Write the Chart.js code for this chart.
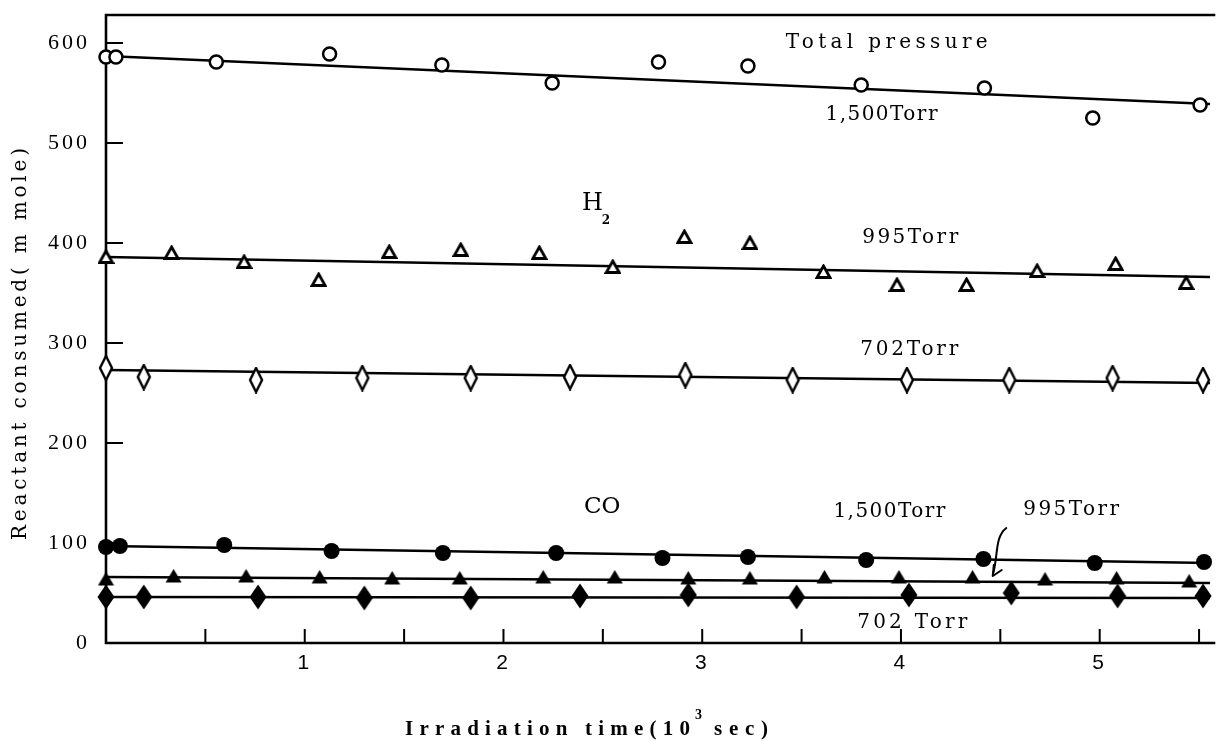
<!DOCTYPE html>
<html>
<head>
<meta charset="utf-8">
<script src="https://cdn.jsdelivr.net/npm/chart.js@4.4.1/dist/chart.umd.min.js"></script>
<style>
  html, body { margin: 0; padding: 0; background: #fff; }
  #chart { display: block; }
</style>
</head>
<body>
<canvas id="chart" width="1219" height="741"></canvas>
<script>
// irradiation time, 10^3 sec / reactant consumed, m mole

// total pressure, 1,500 Torr (open circles)
const totalX = [0, 0.05, 0.555, 1.125, 1.69, 2.245, 2.78, 3.23, 3.8, 4.42, 4.965, 5.505];
const totalY = [586, 586, 581, 589, 578, 560, 581, 577, 558, 555, 525, 538];

// H2, 995 Torr (open triangles)
const h2At995X = [0, 0.33, 0.695, 1.07, 1.425, 1.785, 2.18, 2.55, 2.91, 3.24, 3.61, 3.98, 4.33, 4.685, 5.08, 5.435];
const h2At995Y = [386, 390, 381, 363, 391, 393, 390, 376, 406, 400, 371, 358, 358, 372, 379, 360];

// H2, 702 Torr (open diamonds)
const h2At702X = [0, 0.19, 0.755, 1.29, 1.835, 2.335, 2.915, 3.455, 4.03, 4.545, 5.065, 5.52];
const h2At702Y = [275, 266, 263, 265, 265, 266, 268, 263, 263, 263, 265, 263];

// CO, 1,500 Torr (filled circles)
const coAt1500X = [0, 0.07, 0.595, 1.135, 1.695, 2.265, 2.8, 3.23, 3.825, 4.415, 4.975, 5.525];
const coAt1500Y = [96, 97, 98, 92, 90, 90, 85, 86, 83, 84, 80, 81];

// CO, 995 Torr (filled triangles)
const coAt995X = [0, 0.34, 0.705, 1.075, 1.44, 1.78, 2.2, 2.56, 2.93, 3.24, 3.615, 3.99, 4.36, 4.725, 5.085, 5.45];
const coAt995Y = [64, 67, 67, 66, 65, 65, 66, 66, 65, 65, 66, 66, 66, 64, 65, 62];

// CO, 702 Torr (filled diamonds)
const coAt702X = [0, 0.19, 0.765, 1.3, 1.835, 2.385, 2.93, 3.475, 4.04, 4.555, 5.09, 5.52];
const coAt702Y = [46, 46, 46, 45, 45, 47, 48, 46, 48, 50, 47, 47];

// straight fitted lines, ends at x = 0 and x = xMax
const xMax = 5.555;
const fitX = [0, xMax];
const totalFitY = [587, 539];
const h2At995FitY = [386, 366];
const h2At702FitY = [273, 260];
const coAt1500FitY = [97, 80];
const coAt995FitY = [66, 60];
const coAt702FitY = [46, 45];

// axes
const yMax = 628;
const yTickValues = [0, 100, 200, 300, 400, 500, 600];
const xTickValues = [1, 2, 3, 4, 5];
const xTickMarks = [0.5, 1, 1.5, 2, 2.5, 3, 3.5, 4, 4.5, 5, 5.5];

const SERIF = "'DejaVu Serif', 'Liberation Serif', serif";
const TIMES = "'Liberation Serif', 'DejaVu Serif', serif";
const SANS = "'Liberation Sans', Arial, sans-serif";

// labels placed in data units (left edge, middle), w = spread width in px
const notes = [
  { text: 'Total pressure', x: 3.42, y: 600, w: 202 },
  { text: '1,500Torr', x: 3.62, y: 528, w: 112 },
  { text: '995Torr', x: 3.805, y: 405, w: 96 },
  { text: '702Torr', x: 3.795, y: 293, w: 98 },
  { text: '1,500Torr', x: 3.66, y: 131, w: 112 },
  { text: '995Torr', x: 4.615, y: 133, w: 96 },
  { text: '702 Torr', x: 3.78, y: 20, w: 110 },
];

function pts(xs, ys) {
  return xs.map((x, i) => ({ x, y: ys[i] }));
}

function marker(w, h, draw) {
  const c = document.createElement('canvas');
  c.width = w;
  c.height = h;
  const g = c.getContext('2d');
  g.strokeStyle = '#000';
  g.fillStyle = '#000';
  draw(g);
  return c;
}

function poly(g, p) {
  g.beginPath();
  g.moveTo(p[0][0], p[0][1]);
  for (let i = 1; i < p.length; i++) g.lineTo(p[i][0], p[i][1]);
  g.closePath();
}

const openTriangle = marker(17, 16, (g) => {
  poly(g, [[8.5, 2], [15, 13.5], [2, 13.5]]);
  g.fillStyle = '#fff';
  g.fill();
  g.lineWidth = 2.8;
  g.lineJoin = 'miter';
  g.stroke();
});

const filledTriangle = marker(17, 15, (g) => {
  poly(g, [[8.5, 0.5], [16.5, 14], [0.5, 14]]);
  g.fill();
});

const openDiamond = marker(16, 27, (g) => {
  poly(g, [[8, 1.5], [14, 13.5], [8, 25.5], [2, 13.5]]);
  g.fillStyle = '#fff';
  g.fill();
  g.lineWidth = 2.4;
  g.stroke();
});

const filledDiamond = marker(18, 26, (g) => {
  poly(g, [[9, 0.5], [17.5, 13], [9, 25.5], [0.5, 13]]);
  g.fill();
});

function markerSet(data, style, extra) {
  return Object.assign({
    data,
    showLine: false,
    pointStyle: style,
    pointBorderColor: '#000',
    pointBackgroundColor: '#000',
    pointBorderWidth: 0,
    pointRadius: 8,
    pointHoverRadius: 8,
    clip: false,
    order: 1,
  }, extra || {});
}

function fitLine(ys) {
  return {
    data: pts(fitX, ys),
    showLine: true,
    borderColor: '#000',
    borderWidth: 2.3,
    pointRadius: 0,
    pointHoverRadius: 0,
    clip: false,
    order: 2,
  };
}

function spaced(ctx, text, x, y, width) {
  ctx.letterSpacing = '0px';
  const w = ctx.measureText(text).width;
  const gap = text.length > 1 ? (width - w) / (text.length - 1) : 0;
  ctx.letterSpacing = gap + 'px';
  ctx.fillText(text, x, y);
  ctx.letterSpacing = '0px';
}

// keep the chart area exactly where the frame sits
function noEdgePadding(scale) {
  scale.paddingTop = 0;
  scale.paddingBottom = 0;
  scale.paddingLeft = 0;
  scale.paddingRight = 0;
}

const paper = {
  id: 'paper',
  beforeDraw(chart) {
    const ctx = chart.ctx;
    ctx.save();
    ctx.fillStyle = '#fff';
    ctx.fillRect(0, 0, chart.width, chart.height);
    ctx.restore();
    // spaced-out typewriter digits on the tick labels
    ctx.letterSpacing = '3px';
  },
  beforeDatasetsDraw(chart) {
    const ctx = chart.ctx;
    const { left, right, top, bottom } = chart.chartArea;
    const xs = chart.scales.x;
    const ys = chart.scales.y;
    ctx.save();
    ctx.strokeStyle = '#000';
    ctx.lineWidth = 2.6;
    ctx.lineCap = 'square';
    ctx.beginPath();
    ctx.moveTo(right + 4, top);
    ctx.lineTo(left, top);
    ctx.lineTo(left, bottom);
    ctx.lineTo(right + 4, bottom);
    ctx.stroke();

    // tick marks point inward
    ctx.lineWidth = 2;
    ctx.lineCap = 'butt';
    ctx.beginPath();
    yTickValues.filter((v) => v > 0).forEach((v) => {
      const py = ys.getPixelForValue(v);
      ctx.moveTo(left, py);
      ctx.lineTo(left + 17, py);
    });
    xTickMarks.forEach((v) => {
      const px = xs.getPixelForValue(v);
      ctx.moveTo(px, bottom);
      ctx.lineTo(px, bottom - 14);
    });
    ctx.stroke();
    ctx.restore();
  },
  afterDraw(chart) {
    const ctx = chart.ctx;
    const xs = chart.scales.x;
    const ys = chart.scales.y;
    const px = (v) => xs.getPixelForValue(v);
    const py = (v) => ys.getPixelForValue(v);

    ctx.save();
    ctx.fillStyle = '#000';
    ctx.textAlign = 'left';
    ctx.textBaseline = 'middle';

    ctx.font = '20px ' + SERIF;
    notes.forEach((n) => spaced(ctx, n.text, px(n.x), py(n.y), n.w));

    // H2
    ctx.font = '24px ' + SERIF;
    ctx.fillText('H', px(2.395), py(439));
    ctx.font = 'bold 12px ' + SERIF;
    ctx.fillText('2', px(2.495), py(422));

    // CO
    ctx.font = '23px ' + SERIF;
    ctx.fillText('CO', px(2.405), py(136));

    // curved pointer to the CO 995 Torr line
    ctx.strokeStyle = '#000';
    ctx.lineWidth = 2;
    ctx.lineCap = 'round';
    ctx.beginPath();
    ctx.moveTo(px(4.53), py(115));
    ctx.bezierCurveTo(px(4.47), py(106), px(4.49), py(86), px(4.462), py(68));
    ctx.stroke();
    const tipX = px(4.462);
    const tipY = py(67);
    ctx.beginPath();
    ctx.moveTo(tipX, tipY);
    ctx.lineTo(tipX + 1, tipY - 11);
    ctx.moveTo(tipX, tipY);
    ctx.lineTo(tipX + 9, tipY - 6);
    ctx.stroke();

    // axis titles
    ctx.font = 'bold 21px ' + TIMES;
    const titleY = 730;
    spaced(ctx, 'Irradiation time(10', 405, titleY, 285);
    ctx.font = 'bold 14px ' + TIMES;
    ctx.fillText('3', 695, titleY - 15);
    ctx.font = 'bold 21px ' + TIMES;
    spaced(ctx, 'sec)', 714, titleY, 54);

    ctx.translate(21, 540);
    ctx.rotate(-Math.PI / 2);
    ctx.font = '20px ' + SERIF;
    spaced(ctx, 'Reactant consumed( m mole)', 0, 0, 392);
    ctx.restore();
  },
};

new Chart(document.getElementById('chart'), {
  type: 'scatter',
  data: {
    datasets: [
      markerSet(pts(totalX, totalY), 'circle', {
        pointRadius: 6.5, pointHoverRadius: 6.5, pointBorderWidth: 2.5, pointBackgroundColor: '#fff',
      }),
      markerSet(pts(h2At995X, h2At995Y), openTriangle),
      markerSet(pts(h2At702X, h2At702Y), openDiamond),
      markerSet(pts(coAt1500X, coAt1500Y), 'circle', { pointRadius: 8, pointHoverRadius: 8 }),
      markerSet(pts(coAt995X, coAt995Y), filledTriangle),
      markerSet(pts(coAt702X, coAt702Y), filledDiamond),
      fitLine(totalFitY),
      fitLine(h2At995FitY),
      fitLine(h2At702FitY),
      fitLine(coAt1500FitY),
      fitLine(coAt995FitY),
      fitLine(coAt702FitY),
    ],
  },
  options: {
    responsive: false,
    animation: false,
    devicePixelRatio: 1,
    events: [],
    layout: { padding: { top: 15, right: 2, left: 0, bottom: 0 } },
    plugins: {
      legend: { display: false },
      tooltip: { enabled: false },
    },
    scales: {
      x: {
        type: 'linear',
        min: 0,
        max: xMax,
        grid: { display: false, drawTicks: false },
        border: { display: false },
        afterFit: (scale) => { scale.height = 98; noEdgePadding(scale); },
        afterBuildTicks: (scale) => { scale.ticks = xTickValues.map((value) => ({ value })); },
        ticks: {
          color: '#000',
          padding: 8,
          maxRotation: 0,
          font: { family: SANS, size: 21 },
        },
      },
      y: {
        type: 'linear',
        min: 0,
        max: yMax,
        grid: { display: false, drawTicks: false },
        border: { display: false },
        afterFit: (scale) => { scale.width = 106; noEdgePadding(scale); },
        afterBuildTicks: (scale) => { scale.ticks = yTickValues.map((value) => ({ value })); },
        ticks: {
          color: '#000',
          padding: 16,
          font: { family: TIMES, size: 22 },
        },
      },
    },
  },
  plugins: [paper],
});
</script>
</body>
</html>
